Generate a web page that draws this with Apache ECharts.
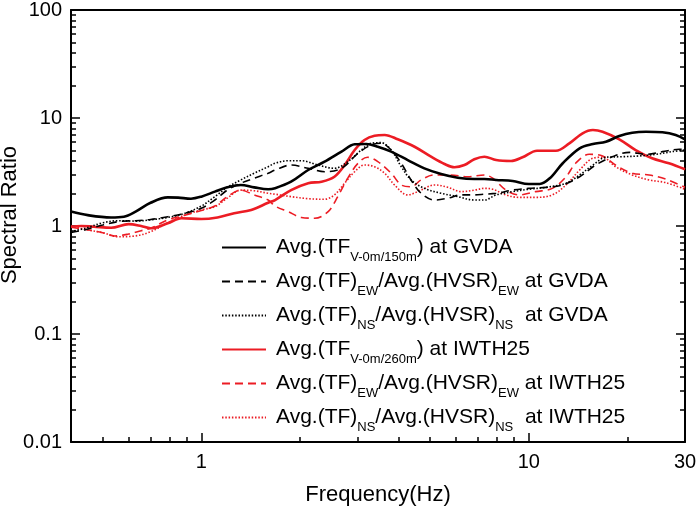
<!DOCTYPE html>
<html>
<head>
<meta charset="utf-8">
<script src="https://cdn.jsdelivr.net/npm/echarts@6/dist/echarts.min.js"></script>
<style>
  html, body { margin: 0; padding: 0; background: #fff; }
  #chart { width: 697px; height: 506px; }
</style>
</head>
<body>
<div id="chart"></div>
<script>
// ---- data (frequency in Hz, spectral ratio) ----
var gvdaTF = [[0.40,1.36],[0.45,1.26],[0.53,1.20],[0.58,1.22],[0.63,1.36],[0.70,1.64],[0.79,1.84],[0.85,1.83],[0.93,1.79],[1.0,1.87],[1.10,2.08],[1.20,2.28],[1.32,2.40],[1.45,2.28],[1.60,2.19],[1.68,2.24],[1.88,2.57],[2.12,3.30],[2.38,3.94],[2.68,4.88],[2.94,5.71],[3.19,5.74],[3.46,5.42],[3.80,4.88],[4.27,4.08],[4.80,3.42],[5.40,3.03],[6.07,2.80],[6.82,2.72],[7.32,2.72],[7.95,2.67],[8.93,2.61],[10.0,2.45],[10.8,2.45],[11.6,2.77],[12.7,3.81],[14.3,5.24],[15.7,5.74],[17.2,6.03],[18.9,6.81],[20.7,7.31],[22.8,7.47],[25.6,7.37],[28.1,6.96],[30,6.35]];
var gvdaEW = [[0.40,0.87],[0.44,0.92],[0.50,1.02],[0.56,1.10],[0.63,1.12],[0.70,1.15],[0.79,1.22],[0.89,1.31],[1.0,1.46],[1.10,1.74],[1.20,2.15],[1.32,2.49],[1.45,2.77],[1.60,3.08],[1.68,3.30],[1.88,3.67],[2.12,3.42],[2.38,3.18],[2.68,3.42],[3.01,4.71],[3.30,5.62],[3.54,5.83],[3.80,5.05],[4.08,3.81],[4.37,2.67],[4.69,2.01],[5.15,1.74],[5.66,1.81],[6.21,1.94],[6.82,1.94],[7.32,1.97],[7.95,2.01],[8.93,2.15],[10.0,2.23],[11.3,2.28],[12.7,2.40],[14.3,2.86],[16.0,3.67],[18.0,4.38],[20.3,4.81],[22.8,4.61],[25.6,4.88],[28.8,5.13],[30,5.13]];
var gvdaNS = [[0.40,0.89],[0.44,0.95],[0.50,1.07],[0.56,1.12],[0.63,1.11],[0.70,1.14],[0.79,1.20],[0.89,1.31],[1.0,1.53],[1.10,1.87],[1.20,2.28],[1.32,2.67],[1.45,3.08],[1.60,3.54],[1.68,3.81],[1.84,4.02],[2.02,4.02],[2.27,3.67],[2.55,3.42],[2.80,3.94],[3.08,5.05],[3.30,5.83],[3.54,5.91],[3.80,5.05],[4.08,3.54],[4.37,2.67],[4.80,2.23],[5.40,2.01],[6.07,1.87],[6.82,1.74],[7.32,1.74],[7.95,1.94],[8.93,2.08],[10.0,2.19],[11.3,2.28],[13.0,2.49],[14.3,2.97],[15.7,3.67],[17.2,4.33],[19.3,4.38],[21.7,4.45],[24.4,4.61],[27.4,4.88],[30,5.05]];
var iwthTF = [[0.40,0.985],[0.43,1.0],[0.47,0.985],[0.53,0.964],[0.60,1.04],[0.655,1.0],[0.70,0.952],[0.79,1.06],[0.87,1.18],[1.0,1.16],[1.12,1.20],[1.26,1.31],[1.42,1.41],[1.60,1.64],[1.68,1.74],[1.88,2.15],[2.12,2.49],[2.33,2.57],[2.55,2.86],[2.74,3.67],[2.94,5.05],[3.15,6.26],[3.38,6.86],[3.63,6.96],[3.98,6.35],[4.48,5.42],[5.03,4.38],[5.53,3.75],[5.93,3.50],[6.36,3.67],[6.82,4.15],[7.32,4.38],[7.95,4.08],[8.83,4.00],[9.57,4.33],[10.6,4.98],[12.1,4.98],[13.3,5.83],[14.6,7.22],[15.7,7.74],[16.8,7.47],[18.9,6.35],[21.2,5.05],[23.8,4.24],[26.8,3.81],[30,3.35]];
var iwthEW = [[0.40,0.973],[0.44,0.932],[0.50,0.867],[0.544,0.808],[0.60,0.843],[0.655,0.905],[0.70,0.952],[0.79,1.14],[0.89,1.26],[1.0,1.39],[1.10,1.53],[1.20,1.87],[1.32,2.15],[1.45,1.94],[1.60,1.74],[1.68,1.53],[1.84,1.36],[2.02,1.20],[2.22,1.18],[2.44,1.36],[2.61,1.87],[2.80,2.77],[3.01,3.81],[3.22,4.33],[3.46,3.94],[3.80,3.08],[4.08,2.40],[4.37,2.31],[4.69,2.67],[5.15,2.97],[5.79,2.97],[6.51,2.86],[7.32,2.97],[7.76,2.77],[8.52,2.15],[9.35,1.94],[10.5,2.08],[11.8,2.23],[13.0,2.86],[13.9,3.81],[15.3,4.61],[16.8,4.45],[18.4,3.67],[20.7,3.08],[23.3,2.97],[26.2,2.72],[30,2.28]];
var iwthNS = [[0.40,1.0],[0.44,0.932],[0.50,0.867],[0.556,0.796],[0.626,0.808],[0.70,0.885],[0.79,1.07],[0.89,1.26],[1.0,1.41],[1.10,1.51],[1.20,1.81],[1.32,2.15],[1.45,2.12],[1.60,2.01],[1.68,1.97],[1.88,1.87],[2.12,1.79],[2.38,1.77],[2.55,1.94],[2.74,2.49],[2.94,3.18],[3.15,3.67],[3.38,3.54],[3.63,3.08],[3.89,2.40],[4.27,1.94],[4.69,2.15],[5.15,2.40],[5.66,2.28],[6.21,2.08],[6.82,2.15],[7.32,2.23],[7.76,2.19],[8.52,1.94],[9.35,1.84],[10.5,1.84],[11.8,1.94],[13.0,2.40],[14.3,3.30],[15.7,4.24],[16.8,4.33],[18.4,3.54],[20.7,2.97],[23.3,2.67],[26.2,2.52],[30,2.19]];

var seriesNames = ['gvdaTF','gvdaEW','gvdaNS','iwthTF','iwthEW','iwthNS'];
var legendLabels = [
  'Avg.(TF{s|V-0m/150m}) at GVDA',
  'Avg.(TF){s|EW}/Avg.(HVSR){s|EW} at GVDA',
  'Avg.(TF){s|NS}/Avg.(HVSR){s|NS}  at GVDA',
  'Avg.(TF{s|V-0m/260m}) at IWTH25',
  'Avg.(TF){s|EW}/Avg.(HVSR){s|EW} at IWTH25',
  'Avg.(TF){s|NS}/Avg.(HVSR){s|NS}  at IWTH25'
];
var xTickLabels = [1, 10, 30];
var xMajorTicks = [1, 10];
var xMinorTicks = [0.5,0.6,0.7,0.8,0.9,2,3,4,5,6,7,8,9,20];
var yTickLabels = [0.01, 0.1, 1, 10, 100];
var yMinorTicks = [0.02,0.03,0.04,0.05,0.06,0.07,0.08,0.09,0.2,0.3,0.4,0.5,0.6,0.7,0.8,0.9,2,3,4,5,6,7,8,9,20,30,40,50,60,70,80,90];
var xAxisTitle = 'Frequency(Hz)';
var yAxisTitle = 'Spectral Ratio';

// ---- chart ----
var FONT = "'Liberation Sans', Arial, sans-serif";
var RED = '#ec1c24';
var chart = echarts.init(document.getElementById('chart'), null, {renderer: 'canvas'});

function xAx(extra) {
  var base = {type: 'log', logBase: 10, min: 0.4, max: 30, gridIndex: 0,
    splitLine: {show: false}, axisLine: {show: false}, axisTick: {show: false}, axisLabel: {show: false}};
  return Object.assign(base, extra);
}
function yAx(extra) {
  var base = {type: 'log', logBase: 10, min: 0.01, max: 100, gridIndex: 0,
    splitLine: {show: false}, axisLine: {show: false}, axisTick: {show: false}, axisLabel: {show: false}};
  return Object.assign(base, extra);
}
var axLine = {show: true, onZero: false, lineStyle: {color: '#000', width: 2}};
var tickStyle = {color: '#000', width: 1.5};

var styles = [
  {color: '#000', width: 2.6, type: 'solid'},
  {color: '#000', width: 1.6, type: [8, 5]},
  {color: '#000', width: 1.6, type: [1.5, 1.8]},
  {color: RED, width: 2.6, type: 'solid'},
  {color: RED, width: 1.6, type: [8, 5]},
  {color: RED, width: 1.6, type: [1.5, 1.8]}
];
var dataSets = [gvdaTF, gvdaEW, gvdaNS, iwthTF, iwthEW, iwthNS];

var series = dataSets.map(function (d, i) {
  return {
    name: seriesNames[i], type: 'line', data: d, xAxisIndex: 0, yAxisIndex: 0,
    symbol: 'none', smooth: 0.35, lineStyle: styles[i], itemStyle: {color: styles[i].color},
    z: 10 - i
  };
});

var option = {
  animation: false,
  backgroundColor: '#fff',
  textStyle: {fontFamily: FONT},
  grid: {left: 71, right: 12, top: 10, bottom: 64, containLabel: false, outerBoundsMode: 'none'},
  xAxis: [
    xAx({position: 'bottom', axisLine: axLine,
      axisTick: {show: true, inside: true, length: 9, lineStyle: tickStyle, customValues: xMajorTicks},
      axisLabel: {show: true, customValues: xTickLabels, color: '#000', fontSize: 20, fontFamily: FONT, margin: 10,
        formatter: function (v) { return String(Math.round(v)); }},
      name: xAxisTitle, nameLocation: 'middle', nameGap: 42, nameMoveOverlap: false,
      nameTextStyle: {color: '#000', fontSize: 22, fontFamily: FONT}}),
    xAx({position: 'bottom',
      axisTick: {show: true, inside: true, length: 5, lineStyle: tickStyle, customValues: xMinorTicks}}),
    xAx({position: 'top', axisLine: axLine})
  ],
  yAxis: [
    yAx({position: 'left', axisLine: axLine,
      axisTick: {show: true, inside: true, length: 9, lineStyle: tickStyle, customValues: yTickLabels},
      axisLabel: {show: true, customValues: yTickLabels, color: '#000', fontSize: 20, fontFamily: FONT, margin: 9,
        formatter: function (v) { return v >= 1 ? String(Math.round(v)) : String(parseFloat(v.toPrecision(1))); }},
      name: yAxisTitle, nameLocation: 'middle', nameGap: 50, nameRotate: 90, nameMoveOverlap: false,
      nameTextStyle: {color: '#000', fontSize: 22, fontFamily: FONT, padding: [0, 0, 0, 22]}}),
    yAx({position: 'left',
      axisTick: {show: true, inside: true, length: 5, lineStyle: tickStyle, customValues: yMinorTicks}}),
    yAx({position: 'right', axisLine: axLine,
      axisTick: {show: true, inside: true, length: 9, lineStyle: tickStyle, customValues: yTickLabels}}),
    yAx({position: 'right',
      axisTick: {show: true, inside: true, length: 5, lineStyle: tickStyle, customValues: yMinorTicks}})
  ],
  legend: {
    orient: 'vertical', left: 221, top: 231, padding: 0, itemGap: 1,
    itemWidth: 44, itemHeight: 14, selectedMode: false,
    itemStyle: {color: 'rgba(0,0,0,0)', borderWidth: 0, opacity: 0},
    data: seriesNames,
    formatter: function (name) { return legendLabels[seriesNames.indexOf(name)]; },
    textStyle: {color: '#000', fontSize: 21, fontFamily: FONT, lineHeight: 33, padding: [0, 0, 0, 5],
      rich: {s: {fontSize: 13, lineHeight: 13, verticalAlign: 'bottom', color: '#000', fontFamily: FONT}}}
  },
  series: series
};
chart.setOption(option);
</script>
</body>
</html>
